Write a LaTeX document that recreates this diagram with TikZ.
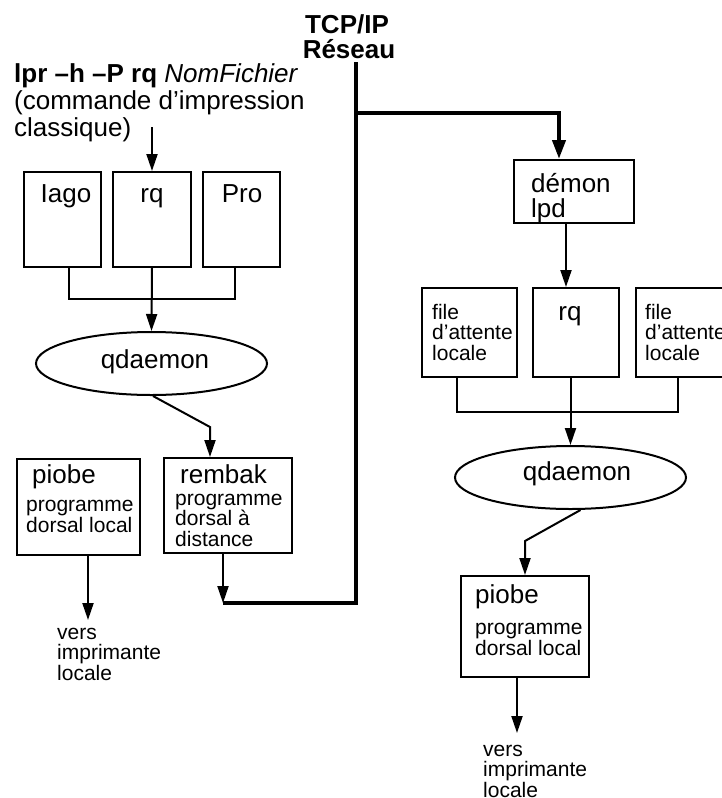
\documentclass[tikz,border=0pt]{standalone}
\usepackage{fontspec}
\setmainfont{Liberation Sans}
\usetikzlibrary{arrows.meta,shapes.geometric,calc}
\newcommand\bigf{\fontsize{26}{25}\selectfont}
\newcommand\smallf{\fontsize{21}{20.5}\selectfont}
\begin{document}
\begin{tikzpicture}[x=1pt,y=-1pt,
  boxn/.style={draw,line width=2pt,inner sep=0pt},
  ell/.style={draw,line width=2pt,ellipse,inner sep=0pt,minimum width=231pt,minimum height=63pt},
  ln/.style={line width=2pt},
  arr/.style={line width=2pt,-{Triangle[length=17pt,width=11pt]}},
  thk/.style={line width=4pt},
  thkarr/.style={line width=4pt,-{Triangle[length=19pt,width=13pt]}},
  bigt/.style={inner sep=0pt,font=\bigf,align=left},
  smallt/.style={inner sep=0pt,font=\smallf,align=left}]
\clip (0,0) rectangle (722,798);
% left boxes
\node[boxn,minimum width=77pt,minimum height=95pt] (iago) at (62.5,219.5) {};
\node[boxn,minimum width=78pt,minimum height=95pt] (rqL) at (152,219.5) {};
\node[boxn,minimum width=77pt,minimum height=95pt] (pro) at (241.5,219.5) {};
\node[ell] (qdL) at (151.5,363.5) {};
\node[boxn,minimum width=123pt,minimum height=96pt] (piobeL) at (78.5,507) {};
\node[boxn,minimum width=128pt,minimum height=95pt] (rembak) at (228,505.5) {};
% right
\node[boxn,minimum width=120pt,minimum height=63pt] (demon) at (574,191.5) {};
\node[boxn,minimum width=95pt,minimum height=89pt] (fileA) at (469.5,332.5) {};
\node[boxn,minimum width=86pt,minimum height=89pt] (rqR) at (576,332.5) {};
\node[boxn,minimum width=95pt,minimum height=89pt] (fileB) at (683.5,332.5) {};
\node[ell] (qdR) at (570.5,477.5) {};
\node[boxn,minimum width=128pt,minimum height=101pt] (piobeR) at (525,626.5) {};
% texts (multi-line nodes: base anchor is the last line)
\node[bigt,anchor=base,font=\bfseries\bigf] (tcp) at (347,33) {TCP/IP};
\node[bigt,anchor=base,font=\bfseries\bigf] (reseau) at (349,58) {Réseau};
\node[bigt,anchor=base west] (lpr) at (14,82) {\textbf{lpr –h –P rq} \textit{NomFichier}};
\node[bigt,anchor=base west] (cmd1) at (14,109) {(commande d’impression};
\node[bigt,anchor=base west] (cmd2) at (14,136) {classique)};
\node[bigt,anchor=base] (tiago) at (66,202) {Iago};
\node[bigt,anchor=base] (trqL) at (152,202) {rq};
\node[bigt,anchor=base] (tpro) at (242,202) {Pro};
\node[bigt,anchor=base] (tqdL) at (155,368) {qdaemon};
\node[bigt,anchor=base west] (tpiobeL) at (32,483) {piobe};
\node[smallt,anchor=base west] (tpiobeL2) at (26,532) {programme\\dorsal local};
\node[bigt,anchor=base west] (trembak) at (180,483) {rembak};
\node[smallt,anchor=base west] (trembak2) at (175,546) {programme\\dorsal à\\distance};
\node[smallt,anchor=base west] (vers1) at (57,680) {vers\\imprimante\\locale};
\node[bigt,anchor=base west] (tdemon) at (531,217) {démon\\lpd};
\node[smallt,anchor=base west] (tfileA) at (432,360) {file\\d’attente\\locale};
\node[bigt,anchor=base] (trqR) at (570,320) {rq};
\node[smallt,anchor=base west] (tfileB) at (645,360) {file\\d’attente\\locale};
\node[bigt,anchor=base] (tqdR) at (577,480) {qdaemon};
\node[bigt,anchor=base west] (tpiobeR) at (475,603) {piobe};
\node[smallt,anchor=base west] (tpiobeR2) at (475,655) {programme\\dorsal local};
\node[smallt,anchor=base west] (vers2) at (483,797) {vers\\imprimante\\locale};
% coordinates
\coordinate (c0) at (152,127);
\coordinate (jL) at (152,299);
\coordinate (k1) at (210,427);
\coordinate (v1) at (88,620);
\coordinate (b1) at (223,603);
\coordinate (net) at (356,62);
\coordinate (t1) at (356,113);
\coordinate (t2) at (559,113);
\coordinate (jR) at (571,412);
\coordinate (k2) at (525,541);
\coordinate (v2) at (517,733);
% connectors left
\draw[arr] (c0) -- (rqL.north);
\draw[ln] ([xshift=6.5pt]iago.south) |- (jL) -| ([xshift=-6.5pt]pro.south);
\draw[arr] (rqL.south) -- (qdL.north);
\draw[arr] ([xshift=1.5pt]qdL.south) -- (k1) -- (k1 |- rembak.north);
\draw[arr] (v1 |- piobeL.south) -- (v1);
\draw[arr] (b1 |- rembak.south) -- (b1);
\draw[thk] (b1) -- (b1 -| net) -- (net);
\draw[thkarr] (t1) -- (t2) -- (t2 |- demon.north);
% right
\draw[arr] ([xshift=-8pt]demon.south) -- ([xshift=-8pt]demon.south |- rqR.north);
\draw[ln] ([xshift=-12.5pt]fileA.south) |- (jR) -| ([xshift=-5.5pt]fileB.south);
\draw[arr] (qdR.north |- rqR.south) -- (qdR.north);
\draw[arr] ([xshift=10pt]qdR.south) -- (k2) -- (k2 |- piobeR.north);
\draw[arr] (v2 |- piobeR.south) -- (v2);
\end{tikzpicture}
\end{document}
